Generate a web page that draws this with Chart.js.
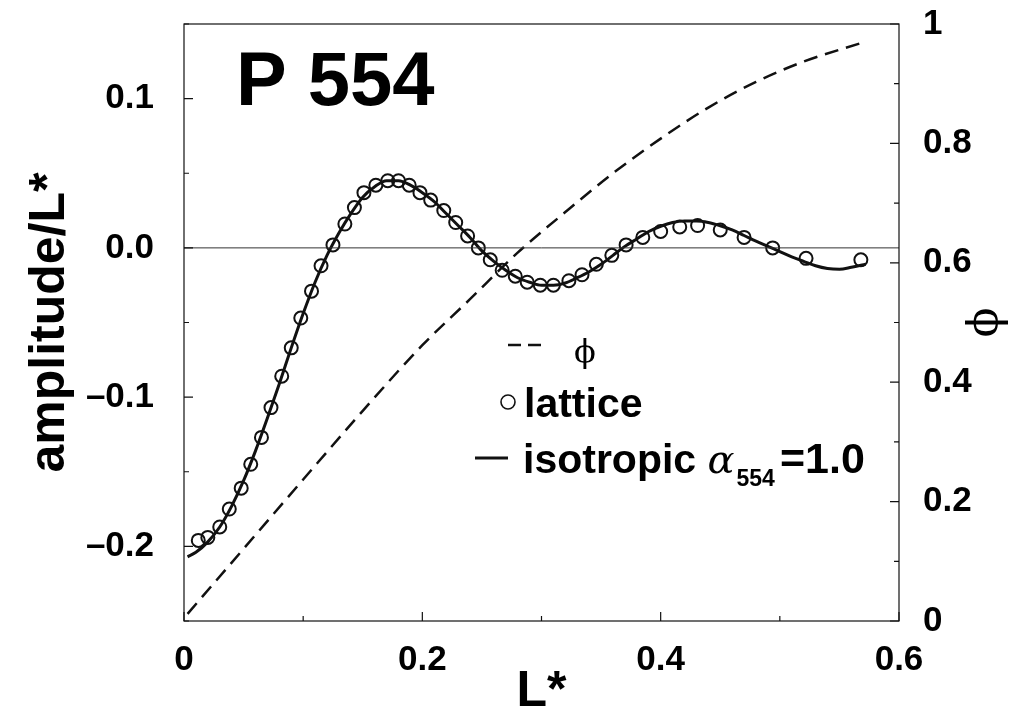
<!DOCTYPE html>
<html>
<head>
<meta charset="utf-8">
<script src="https://cdn.jsdelivr.net/npm/chart.js@4.4.1/dist/chart.umd.min.js"></script>
<style>
  body { margin: 0; background: #fff; }
  #wrap { width: 1011px; height: 717px; }
</style>
</head>
<body>
<div id="wrap"><canvas id="graphCanvas" width="1011" height="717"></canvas></div>
<script>
// lattice results (open circles)
var latticeL = [0.012, 0.020, 0.030, 0.038, 0.048, 0.056, 0.065, 0.073, 0.082, 0.090,
	0.098, 0.107, 0.115, 0.125, 0.135, 0.143, 0.151, 0.161, 0.171, 0.180,
	0.189, 0.198, 0.207, 0.218, 0.228, 0.238, 0.247, 0.257, 0.267, 0.278,
	0.288, 0.299, 0.310, 0.323, 0.334, 0.346, 0.359, 0.371, 0.385, 0.400,
	0.416, 0.431, 0.450, 0.470, 0.494, 0.522, 0.568];
var latticeAmp = [-0.196, -0.194, -0.187, -0.175, -0.161, -0.145, -0.127, -0.107, -0.086, -0.067,
	-0.047, -0.029, -0.012, 0.002, 0.016, 0.027, 0.037, 0.042, 0.045, 0.045,
	0.042, 0.037, 0.032, 0.025, 0.017, 0.008, 0.000, -0.008, -0.015, -0.019,
	-0.023, -0.025, -0.025, -0.022, -0.018, -0.011, -0.005, 0.002, 0.007, 0.011,
	0.014, 0.015, 0.012, 0.007, 0.000, -0.007, -0.008];

// isotropic model, alpha_554 = 1.0 (solid line)
var isoL = [0.003, 0.01, 0.02, 0.03, 0.04, 0.05, 0.06, 0.07, 0.08, 0.09,
	0.10, 0.11, 0.12, 0.13, 0.14, 0.15, 0.16, 0.17, 0.18, 0.19,
	0.20, 0.21, 0.22, 0.23, 0.24, 0.25, 0.26, 0.27, 0.28, 0.29,
	0.30, 0.31, 0.32, 0.33, 0.34, 0.35, 0.36, 0.37, 0.38, 0.39,
	0.40, 0.41, 0.42, 0.43, 0.44, 0.45, 0.46, 0.47, 0.48, 0.49,
	0.50, 0.51, 0.52, 0.53, 0.54, 0.55, 0.56, 0.572];
var isoAmp = [-0.207, -0.204, -0.197, -0.187, -0.173, -0.156, -0.136, -0.114, -0.091, -0.067,
	-0.044, -0.023, -0.005, 0.010, 0.023, 0.034, 0.041, 0.045, 0.045, 0.042,
	0.037, 0.031, 0.023, 0.015, 0.007, -0.002, -0.009, -0.015, -0.020, -0.023,
	-0.025, -0.025, -0.0235, -0.020, -0.016, -0.011, -0.005, 0.001, 0.006, 0.011,
	0.0145, 0.017, 0.018, 0.018, 0.017, 0.0148, 0.012, 0.0083, 0.0045, 0.001,
	-0.0025, -0.006, -0.009, -0.012, -0.0138, -0.0143, -0.013, -0.011];

// phi on the right hand axis (dashed)
var phiL = [0.003, 0.05, 0.10, 0.15, 0.20, 0.24, 0.28, 0.32, 0.36, 0.40, 0.44, 0.48, 0.52, 0.568];
var phiVal = [0.012, 0.121, 0.237, 0.352, 0.462, 0.539, 0.617, 0.685, 0.750, 0.808, 0.860, 0.903, 0.937, 0.968];

var xTickLabels = ['0', '0.2', '0.4', '0.6'];
var yTickLabels = ['–0.2', '–0.1', '0.0', '0.1'];
var phiTickLabels = ['0', '0.2', '0.4', '0.6', '0.8', '1'];

var SANS = "'Liberation Sans', Arial, Helvetica, sans-serif";
var SERIF = "'DejaVu Serif', 'Liberation Serif', serif";
var INK = '#111';

function toPoints(xs, ys) {
	var pts = [];
	for (var i in xs) {
		pts.push({ x: xs[i], y: ys[i] });
	}
	return pts;
}

// fixed axis boxes so the plot frame sits where it should
function fixWidth(w) {
	return function (s) { s.width = w; s.paddingTop = 0; s.paddingBottom = 0; };
}
function fixHeight(h) {
	return function (s) { s.height = h; s.paddingLeft = 0; s.paddingRight = 0; };
}

// inward tick marks, frame, panel title and the in-plot legend
var decor = {
	id: 'decor',
	afterDraw: function (chart) {
		var ctx = chart.ctx;
		var a = chart.chartArea;
		var sx = chart.scales.x, sy = chart.scales.y, sp = chart.scales.y2;
		ctx.save();
		ctx.strokeStyle = INK;
		ctx.lineWidth = 1.2;
		ctx.strokeRect(a.left, a.top, a.right - a.left, a.bottom - a.top);

		ctx.beginPath();
		sx.ticks.forEach(function (t) {
			var px = sx.getPixelForValue(t.value);
			var len = Math.round(t.value * 10) % 2 === 0 ? 9 : 5;
			ctx.moveTo(px, a.bottom);
			ctx.lineTo(px, a.bottom - len);
		});
		sy.ticks.forEach(function (t) {
			var py = sy.getPixelForValue(t.value);
			var len = Math.round(t.value * 100) % 10 === 0 ? 9 : 5;
			ctx.moveTo(a.left, py);
			ctx.lineTo(a.left + len, py);
		});
		sp.ticks.forEach(function (t) {
			var py = sp.getPixelForValue(t.value);
			var len = Math.round(t.value * 10) % 2 === 0 ? 9 : 5;
			ctx.moveTo(a.right, py);
			ctx.lineTo(a.right - len, py);
		});
		ctx.stroke();

		ctx.fillStyle = '#000';
		ctx.textBaseline = 'alphabetic';
		ctx.textAlign = 'left';
		ctx.font = 'bold 76px ' + SANS;
		ctx.fillText('P 554', a.left + 52, 105);

		// legend
		var lx = a.left;
		ctx.lineWidth = 2.5;
		ctx.beginPath();
		ctx.moveTo(lx + 324, 345); ctx.lineTo(lx + 337, 345);
		ctx.moveTo(lx + 344, 345); ctx.lineTo(lx + 357, 345);
		ctx.stroke();
		ctx.font = '32px ' + SERIF;
		ctx.fillText('ϕ', lx + 390, 362);

		ctx.lineWidth = 1.6;
		ctx.beginPath();
		ctx.arc(lx + 324, 402, 7, 0, Math.PI * 2);
		ctx.stroke();
		ctx.font = 'bold 41px ' + SANS;
		ctx.fillText('lattice', lx + 340, 417);

		ctx.lineWidth = 3;
		ctx.beginPath();
		ctx.moveTo(lx + 291, 458); ctx.lineTo(lx + 324, 458);
		ctx.stroke();
		var tx = lx + 339;
		ctx.font = 'bold 41px ' + SANS;
		ctx.fillText('isotropic ', tx, 473);
		tx += ctx.measureText('isotropic ').width;
		ctx.font = 'italic 40px ' + SERIF;
		ctx.fillText('α', tx, 473);
		tx += ctx.measureText('α').width + 2;
		ctx.font = 'bold 23px ' + SANS;
		ctx.fillText('554', tx, 486);
		tx += ctx.measureText('554').width + 5;
		ctx.font = 'bold 43px ' + SANS;
		ctx.fillText('=1.0', tx, 473);
		ctx.restore();
	}
};

var chartdata = {
	datasets: [
		{
			label: 'zero',
			data: [{ x: 0, y: 0 }, { x: 0.6, y: 0 }],
			showLine: true,
			borderColor: '#333',
			borderWidth: 1,
			pointRadius: 0,
			yAxisID: 'y'
		},
		{
			label: 'isotropic',
			data: toPoints(isoL, isoAmp),
			showLine: true,
			borderColor: INK,
			borderWidth: 3,
			pointRadius: 0,
			cubicInterpolationMode: 'monotone',
			yAxisID: 'y'
		},
		{
			label: 'lattice',
			data: toPoints(latticeL, latticeAmp),
			showLine: false,
			pointStyle: 'circle',
			pointRadius: 6.5,
			pointBorderWidth: 2,
			pointBorderColor: INK,
			pointBackgroundColor: 'rgba(0,0,0,0)',
			yAxisID: 'y'
		},
		{
			label: 'phi',
			data: toPoints(phiL, phiVal),
			showLine: true,
			borderColor: INK,
			borderWidth: 2.5,
			borderDash: [14, 8],
			pointRadius: 0,
			cubicInterpolationMode: 'monotone',
			yAxisID: 'y2'
		}
	]
};

var tickFont = { family: SANS, size: 35, weight: 'bold' };

var graph = new Chart(document.getElementById('graphCanvas'), {
	type: 'scatter',
	data: chartdata,
	options: {
		responsive: false,
		animation: false,
		devicePixelRatio: 1,
		layout: { padding: { top: 24, left: 0, right: 0, bottom: 0 } },
		plugins: { legend: { display: false }, tooltip: { enabled: false } },
		scales: {
			x: {
				type: 'linear',
				min: 0, max: 0.6,
				afterFit: fixHeight(96),
				grid: { display: false },
				border: { display: false },
				ticks: {
					stepSize: 0.1, autoSkip: false, maxRotation: 0, padding: 10,
					color: '#000', font: tickFont,
					callback: function (v) {
						var n = Math.round(v * 10);
						return n % 2 === 0 ? xTickLabels[n / 2] : '';
					}
				},
				title: {
					display: true, text: 'L*', color: '#000',
					font: { family: SANS, size: 50, weight: 'bold', lineHeight: 1 },
					padding: { top: 0, bottom: 0 }
				}
			},
			y: {
				type: 'linear', position: 'left',
				min: -0.25, max: 0.15,
				afterFit: fixWidth(184),
				grid: { display: false },
				border: { display: false },
				ticks: {
					stepSize: 0.05, autoSkip: false, padding: 22,
					color: '#000', font: tickFont,
					callback: function (v) {
						var n = Math.round(v * 100);
						if (n % 10 !== 0 || n < -20 || n > 10) return '';
						return yTickLabels[n / 10 + 2];
					}
				},
				title: {
					display: true, text: 'amplitude/L*', color: '#000',
					font: { family: SANS, size: 50, weight: 'bold', lineHeight: 1 },
					padding: { top: 25, bottom: 0 }
				}
			},
			y2: {
				type: 'linear', position: 'right',
				min: 0, max: 1,
				afterFit: fixWidth(112),
				grid: { display: false },
				border: { display: false },
				ticks: {
					stepSize: 0.1, autoSkip: false, padding: 16,
					color: '#000', font: tickFont,
					callback: function (v) {
						var n = Math.round(v * 10);
						return n % 2 === 0 ? phiTickLabels[n / 2] : '';
					}
				},
				title: {
					display: true, text: 'ϕ', color: '#000',
					font: { family: SERIF, size: 44, lineHeight: 1 },
					padding: { top: 4, bottom: 0 }
				}
			}
		}
	},
	plugins: [decor]
});
</script>
</body>
</html>
